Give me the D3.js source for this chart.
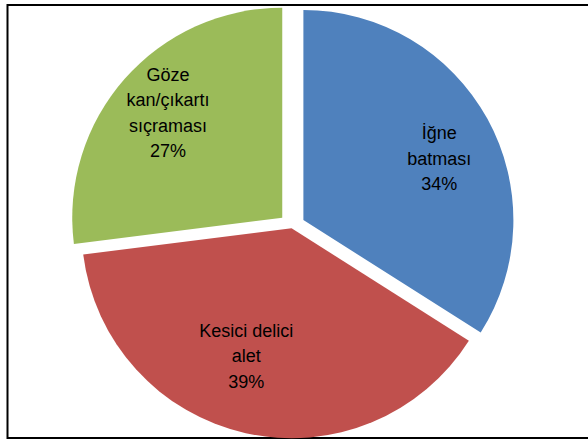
<!DOCTYPE html>
<html>
<head>
<meta charset="utf-8">
<script src="https://cdn.jsdelivr.net/npm/d3@7"></script>
<style>
  body { margin: 0; background: #fff; }
  svg { display: block; }
</style>
</head>
<body>
<div id="chart-area"></div>
<script>
// slices, clockwise from 12 o'clock
var categories = ["İğne batması", "Kesici delici alet", "Göze kan/çıkartı sıçraması"];
var values = [34, 39, 27];
var labelLines = [
  ["İğne", "batması", "34%"],
  ["Kesici delici", "alet", "39%"],
  ["Göze", "kan/çıkartı", "sıçraması", "27%"]
];

var colors = ["#4F81BD", "#C0504D", "#9BBB59"];
var explode = [13, 2, 13];
var labelR = [149, 136, 155];
var labelTurn = [0.08, 0.12, 0.02];

var width = 588, height = 440;
var cx = 292, cy = 226.3, r = 210;
var lineH = 25.5;

var svg = d3.select("#chart-area")
  .append("svg")
  .attr("width", width)
  .attr("height", height);

svg.append("rect")
  .attr("x", 7.5)
  .attr("y", 5)
  .attr("width", 600)
  .attr("height", 433)
  .attr("fill", "#fff")
  .attr("stroke", "#000")
  .attr("stroke-width", 2);

var pie = d3.pie().sort(null).value(function(d) { return d; });
var arcs = pie(values);

var arc = d3.arc().innerRadius(0).outerRadius(r);

var g = svg.append("g")
  .attr("transform", "translate(" + cx + "," + cy + ")");

var slices = g.selectAll("g.slice")
  .data(arcs)
  .enter()
  .append("g")
  .attr("class", "slice")
  .attr("transform", function(d, i) {
    var a = (d.startAngle + d.endAngle) / 2;
    return "translate(" + (Math.sin(a) * explode[i]) + "," + (-Math.cos(a) * explode[i]) + ")";
  });

slices.append("path")
  .attr("d", arc)
  .attr("fill", function(d, i) { return colors[i]; });

slices.each(function(d, i) {
  var a = (d.startAngle + d.endAngle) / 2 + labelTurn[i];
  var x = Math.sin(a) * labelR[i];
  var y = -Math.cos(a) * labelR[i];
  var lines = labelLines[i];
  var t = d3.select(this).append("text")
    .attr("text-anchor", "middle")
    .attr("font-family", "'Liberation Sans', Arial, sans-serif")
    .attr("font-size", 18)
    .attr("fill", "#000");
  lines.forEach(function(s, k) {
    t.append("tspan")
      .attr("x", x)
      .attr("y", y + (k - (lines.length - 1) / 2) * lineH + 6)
      .text(s);
  });
});
</script>
</body>
</html>
